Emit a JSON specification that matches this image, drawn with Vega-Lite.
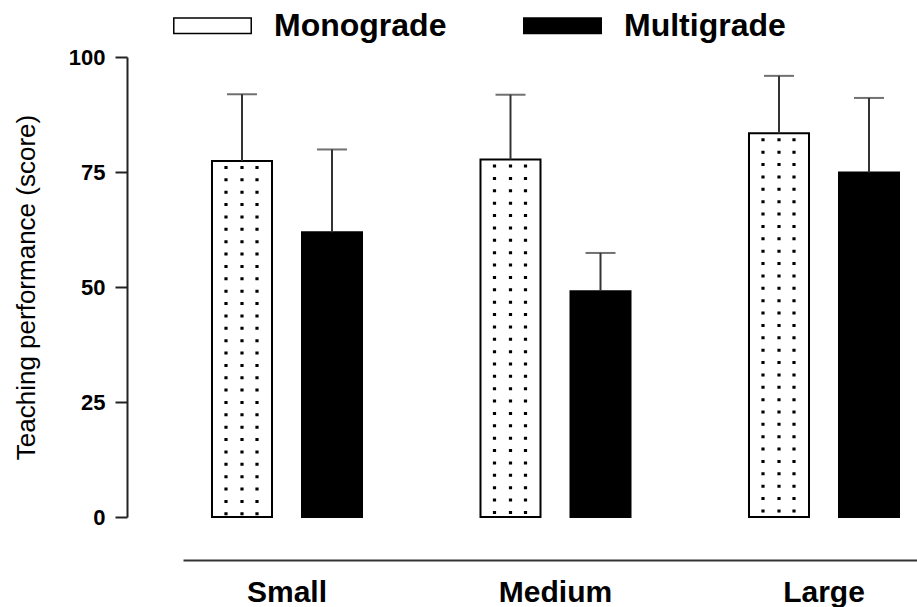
{
  "$schema": "https://vega.github.io/schema/vega-lite/v6.json",
  "width": 734,
  "height": 460,
  "autosize": {"type": "none"},
  "padding": {"left": 183, "top": 57, "right": 0, "bottom": 90},
  "background": "white",
  "config": {"view": {"stroke": null}, "font": "Liberation Sans"},
  "data": {
    "values": [
      {"size": "Small", "grade": "Monograde", "mean": 77.4, "upper": 91.9},
      {"size": "Small", "grade": "Multigrade", "mean": 61.9, "upper": 79.9},
      {"size": "Medium", "grade": "Monograde", "mean": 77.7, "upper": 91.8},
      {"size": "Medium", "grade": "Multigrade", "mean": 49.1, "upper": 57.4},
      {"size": "Large", "grade": "Monograde", "mean": 83.4, "upper": 95.9},
      {"size": "Large", "grade": "Multigrade", "mean": 74.9, "upper": 91.1}
    ]
  },
  "encoding": {
    "x": {
      "field": "size",
      "type": "nominal",
      "sort": ["Small", "Medium", "Large"],
      "scale": {"paddingInner": 0.4413, "paddingOuter": 0.0875, "align": 0.617},
      "axis": {
        "title": null,
        "orient": "bottom",
        "offset": 43,
        "ticks": false,
        "tickSize": 0,
        "domainColor": "#333333",
        "domainWidth": 2,
        "labelAngle": 0,
        "labelFont": "Liberation Sans",
        "labelFontWeight": "bold",
        "labelFontSize": 30,
        "labelColor": "black",
        "labelPadding": 17
      }
    }
  },
  "layer": [
    {
      "mark": {"type": "bar", "stroke": "black", "strokeWidth": 2},
      "encoding": {
        "xOffset": {
          "field": "grade",
          "type": "nominal",
          "sort": ["Monograde", "Multigrade"],
          "scale": {"paddingInner": 0.3333, "paddingOuter": 0}
        },
        "y": {
          "field": "mean",
          "type": "quantitative",
          "scale": {"domain": [0, 100], "nice": false},
          "axis": {
            "title": "Teaching performance (score)",
            "values": [0, 25, 50, 75, 100],
            "offset": 56,
            "grid": false,
            "domainColor": "#222222",
            "domainWidth": 2,
            "tickColor": "#222222",
            "tickWidth": 2,
            "tickSize": 12,
            "labelPadding": 10,
            "labelFont": "Liberation Sans",
            "labelFontWeight": "bold",
            "labelFontSize": 22,
            "labelColor": "black",
            "titleFont": "Liberation Sans",
            "titleFontWeight": "normal",
            "titleFontSize": 26,
            "titleColor": "black",
            "titlePadding": 29
          }
        },
        "fill": {
          "field": "grade",
          "type": "nominal",
          "sort": ["Monograde", "Multigrade"],
          "scale": {"domain": ["Monograde", "Multigrade"], "range": ["white", "black"]},
          "legend": {
            "orient": "none",
            "legendX": -10,
            "legendY": -71,
            "direction": "horizontal",
            "title": null,
            "symbolType": "M-1,-0.2H1V0.2H-1Z",
            "symbolSize": 6000,
            "symbolStrokeColor": "black",
            "symbolStrokeWidth": 1.5,
            "symbolOpacity": 1,
            "labelFont": "Liberation Sans",
            "labelFontWeight": "bold",
            "labelFontSize": 32,
            "labelColor": "black",
            "labelOffset": 22,
            "columnPadding": 73,
            "padding": 0,
            "labelLimit": 400
          }
        }
      }
    },
    {
      "transform": [{"filter": "datum.grade === 'Monograde'"}],
      "mark": {"type": "rule", "color": "black", "strokeWidth": 3.2, "strokeDash": [3, 9.37], "strokeDashOffset": 7.37, "strokeCap": "butt"},
      "encoding": {
        "x": {"field": "size", "type": "nominal", "sort": ["Small", "Medium", "Large"], "bandPosition": 0.0933},
        "y": {"field": "mean", "type": "quantitative"},
        "y2": {"datum": 0}
      }
    },
    {
      "transform": [{"filter": "datum.grade === 'Monograde'"}],
      "mark": {"type": "rule", "color": "black", "strokeWidth": 3.2, "strokeDash": [3, 9.37], "strokeDashOffset": 7.37, "strokeCap": "butt"},
      "encoding": {
        "x": {"field": "size", "type": "nominal", "sort": ["Small", "Medium", "Large"], "bandPosition": 0.2},
        "y": {"field": "mean", "type": "quantitative"},
        "y2": {"datum": 0}
      }
    },
    {
      "transform": [{"filter": "datum.grade === 'Monograde'"}],
      "mark": {"type": "rule", "color": "black", "strokeWidth": 3.2, "strokeDash": [3, 9.37], "strokeDashOffset": 7.37, "strokeCap": "butt"},
      "encoding": {
        "x": {"field": "size", "type": "nominal", "sort": ["Small", "Medium", "Large"], "bandPosition": 0.3},
        "y": {"field": "mean", "type": "quantitative"},
        "y2": {"datum": 0}
      }
    },
    {
      "mark": {"type": "rule", "color": "#333333", "strokeWidth": 2},
      "encoding": {
        "xOffset": {"field": "grade", "type": "nominal", "sort": ["Monograde", "Multigrade"]},
        "y": {"field": "mean", "type": "quantitative"},
        "y2": {"field": "upper"}
      }
    },
    {
      "mark": {"type": "tick", "color": "#333333", "thickness": 2, "size": 30, "orient": "horizontal"},
      "encoding": {
        "xOffset": {"field": "grade", "type": "nominal", "sort": ["Monograde", "Multigrade"]},
        "y": {"field": "upper", "type": "quantitative"}
      }
    }
  ]
}
